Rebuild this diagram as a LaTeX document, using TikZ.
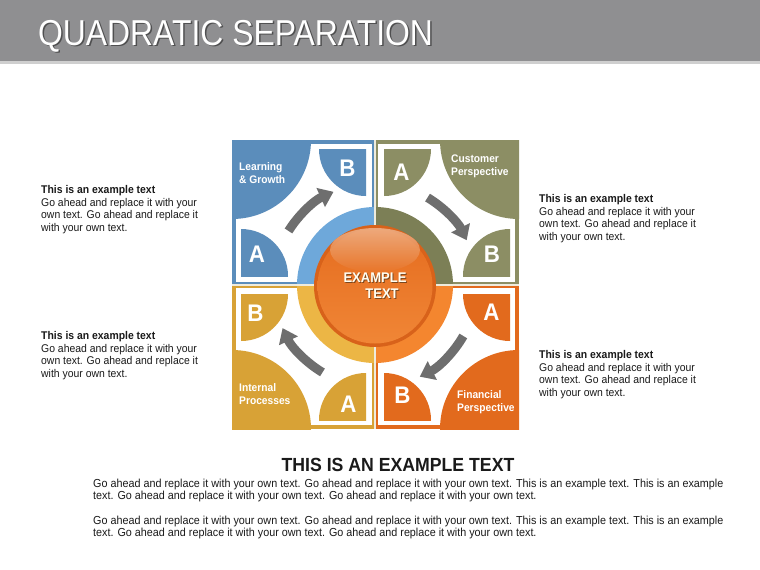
\documentclass[tikz,border=0pt]{standalone}
\usepackage{fontspec}
\setmainfont[FakeStretch=0.93]{Liberation Sans}
\newfontfamily\titlefont[FakeStretch=0.885]{Liberation Sans}
\usetikzlibrary{arrows.meta}
\definecolor{headgray}{HTML}{8F8F91}
\definecolor{headline}{HTML}{CFCFCF}
\definecolor{qblue}{HTML}{5B8DBB}
\definecolor{rblue}{HTML}{6EA8DA}
\definecolor{qolive}{HTML}{8C8E64}
\definecolor{rolive}{HTML}{7C7F56}
\definecolor{qgold}{HTML}{D8A236}
\definecolor{rgold}{HTML}{ECB645}
\definecolor{qorange}{HTML}{E26A1D}
\definecolor{rorange}{HTML}{F4862F}
\definecolor{arrgray}{HTML}{6E6E6E}
\definecolor{txt}{HTML}{1A1A1A}
\definecolor{sphedge}{HTML}{D8621A}
\definecolor{sphtop}{HTML}{E56C1F}
\definecolor{sphbot}{HTML}{F08636}
\definecolor{hltop}{HTML}{F1BE9C}
\definecolor{hlbot}{HTML}{E8762A}
\definecolor{divider}{HTML}{EEEBDD}
\tikzset{
  sidetext/.style={anchor=north west, inner sep=0pt, align=left, text=txt,
    font=\fontsize{11.2}{12.7}\selectfont},
  bodytext/.style={anchor=north west, inner sep=0pt, align=left, text=txt,
    font=\fontsize{11.6}{12.3}\selectfont},
  qlabel/.style={anchor=north west, inner sep=0pt, align=left, text=white,
    font=\bfseries\fontsize{11}{13}\selectfont},
  letter/.style={inner sep=0pt, text=white, font=\bfseries\fontsize{24}{24}\selectfont},
  arr/.style={draw=arrgray, line width=9pt, -{Triangle[width=20pt,length=14pt]}},
  ctext/.style={inner sep=0pt, font=\bfseries\fontsize{14}{14}\selectfont},
}
\begin{document}
\begin{tikzpicture}[x=1pt,y=-1pt]
\useasboundingbox (0,0) rectangle (760,570);
\fill[white] (0,0) rectangle (760,570);
% header
\fill[headgray] (0,0) rectangle (760,61);
\fill[headline] (0,61) rectangle (760,64);
\node[anchor=base west, inner sep=0pt, text=black!75, opacity=0.8,
  font=\titlefont\fontsize{36}{40}\selectfont] (titleshadow) at (39.5,46.5) {QUADRATIC SEPARATION};
\node[anchor=base west, inner sep=0pt, text=white,
  font=\titlefont\fontsize{36}{40}\selectfont] (title) at (38,45) {QUADRATIC SEPARATION};

\coordinate (C) at (375,285);
% top-left quadrant
\begin{scope}
  \clip (232,140) rectangle (375,285);
  \fill[qblue] (232,140) rectangle (375,285);
  \fill[white] (236,144) rectangle (372,282);
  \fill[qblue] (232,140) circle[radius=79];
  \begin{scope}
    \clip (241,149) rectangle (366,276);
    \fill[qblue] (366,149) circle[radius=47];
    \fill[qblue] (241,276) circle[radius=47];
  \end{scope}
  \fill[rblue] (C) circle[radius=78];
\end{scope}
% top-right quadrant
\begin{scope}
  \clip (375,140) rectangle (519,285);
  \fill[qolive] (375,140) rectangle (519,285);
  \fill[white] (378,144) rectangle (515,282);
  \fill[qolive] (519,140) circle[radius=79];
  \begin{scope}
    \clip (384,149) rectangle (510,276);
    \fill[qolive] (384,149) circle[radius=47];
    \fill[qolive] (510,276) circle[radius=47];
  \end{scope}
  \fill[rolive] (C) circle[radius=78];
\end{scope}
% bottom-left quadrant
\begin{scope}
  \clip (232,285) rectangle (375,429);
  \fill[qgold] (232,285) rectangle (375,429);
  \fill[white] (236,288) rectangle (372,425);
  \fill[qgold] (232,429) circle[radius=79];
  \begin{scope}
    \clip (241,294) rectangle (366,420);
    \fill[qgold] (241,294) circle[radius=47];
    \fill[qgold] (366,420) circle[radius=47];
  \end{scope}
  \fill[rgold] (C) circle[radius=78];
\end{scope}
% bottom-right quadrant
\begin{scope}
  \clip (375,285) rectangle (519,429);
  \fill[qorange] (375,285) rectangle (519,429);
  \fill[white] (378,288) rectangle (515,425);
  \fill[qorange] (519,429) circle[radius=79];
  \begin{scope}
    \clip (384,294) rectangle (510,420);
    \fill[qorange] (510,294) circle[radius=47];
    \fill[qorange] (384,420) circle[radius=47];
  \end{scope}
  \fill[rorange] (C) circle[radius=78];
\end{scope}
% dividers
\draw[divider, line width=1.3pt] (375,140) -- (375,429);
\draw[divider, line width=1.3pt] (232,285) -- (519,285);

% arrows (clockwise)
\draw[arr] ([shift={(-148:102)}]C) arc[start angle=-148, end angle=-114, radius=102];
\draw[arr] ([shift={(-59:102)}]C) arc[start angle=-59, end angle=-26, radius=102];
\draw[arr] ([shift={(30:102)}]C) arc[start angle=30, end angle=64, radius=102];
\draw[arr] ([shift={(121:102)}]C) arc[start angle=121, end angle=155, radius=102];

% sphere
\coordinate (S) at (375,286);
\fill[sphedge] (S) circle[radius=61];
\shade[top color=sphtop, bottom color=sphbot] (S) circle[radius=57.5];
\shade[top color=hltop, bottom color=hlbot, opacity=0.75] (375,250) ellipse[x radius=45, y radius=22];
\node[ctext, text=black!60!brown, opacity=0.7] (c1s) at (376,279) {EXAMPLE};
\node[ctext, text=black!60!brown, opacity=0.7] (c2s) at (383,295) {TEXT};
\node[ctext, text=white!95!yellow] (c1) at (375,278) {EXAMPLE};
\node[ctext, text=white!95!yellow] (c2) at (382,294) {TEXT};

% letters
\node[letter] (tlB) at (347.5,168.5) {B};
\node[letter] (tlA) at (257,254.5) {A};
\node[letter] (trA) at (401.5,172) {A};
\node[letter] (trB) at (492,254.5) {B};
\node[letter] (blB) at (255.5,313) {B};
\node[letter] (blA) at (348.5,404.5) {A};
\node[letter] (brA) at (491.5,312.5) {A};
\node[letter] (brB) at (402.5,395.5) {B};

% quadrant labels
\node[qlabel] (lq1) at (239,162) {Learning\\\& Growth};
\node[qlabel] (lq2) at (451,155) {Customer\\Perspective};
\node[qlabel] (lq3) at (239,383) {Internal\\Processes};
\node[qlabel] (lq4) at (457,390) {Financial\\Perspective};

% side texts
\node[sidetext] (lt1) at (41,185) {\textbf{This is an example text}\\Go ahead and replace it with your\\own text. Go ahead and replace it\\with your own text.};
\node[sidetext] (lt2) at (41,331) {\textbf{This is an example text}\\Go ahead and replace it with your\\own text. Go ahead and replace it\\with your own text.};
\node[sidetext] (rt1) at (539,194) {\textbf{This is an example text}\\Go ahead and replace it with your\\own text. Go ahead and replace it\\with your own text.};
\node[sidetext] (rt2) at (539,350) {\textbf{This is an example text}\\Go ahead and replace it with your\\own text. Go ahead and replace it\\with your own text.};

% bottom text
\node[inner sep=0pt, text=txt, font=\bfseries\fontsize{19}{22}\selectfont] (head) at (398,465) {THIS IS AN EXAMPLE TEXT};
\node[bodytext] (p1) at (93,479) {Go ahead and replace it with your own text. Go ahead and replace it with your own text. This is an example text. This is an example\\text. Go ahead and replace it with your own text. Go ahead and replace it with your own text.};
\node[bodytext] (p2) at (93,516) {Go ahead and replace it with your own text. Go ahead and replace it with your own text. This is an example text. This is an example\\text. Go ahead and replace it with your own text. Go ahead and replace it with your own text.};
\end{tikzpicture}
\end{document}
